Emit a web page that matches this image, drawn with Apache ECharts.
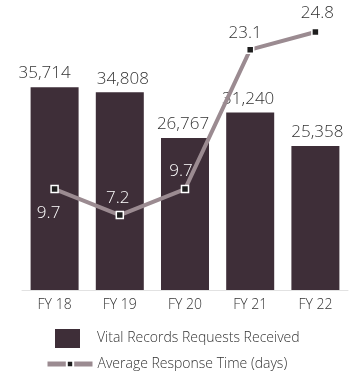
<!DOCTYPE html>
<html>
<head>
<meta charset="utf-8">
<script src="https://cdn.jsdelivr.net/npm/echarts@6/dist/echarts.min.js"></script>
<style>
  html, body { margin: 0; padding: 0; background: #fff; }
  #chart { width: 353px; height: 375px; }
</style>
</head>
<body>
<div id="chart"></div>
<script>
// Fiscal years shown along the x axis
const years = ['FY 18', 'FY 19', 'FY 20', 'FY 21', 'FY 22'];
// Vital records requests received per year
const requests = [35714, 34808, 26767, 31240, 25358];
// Average response time in days
const responseDays = [9.7, 7.2, 9.7, 23.1, 24.8];

const barName = 'Vital Records Requests Received';
const lineName = 'Average Response Time (days)';

const FONT = '"Open Sans", "Noto Sans", sans-serif';
const WEIGHT = 300;
const BAR_COLOR = '#3e2e38';
const LINE_COLOR = '#9b8b91';

// Per-point label placement for the response-time line
const lineLabelPlacement = [
  { position: 'bottom', distance: 11, offset: [-6, 0], color: '#ffffff' },
  { position: 'top', distance: 4, offset: [-2, 0], color: '#ffffff' },
  { position: 'top', distance: 5, offset: [-4, 0], color: '#ffffff' },
  { position: 'top', distance: 4, offset: [-5, 0], color: '#333333' },
  { position: 'top', distance: 6, offset: [2, 0], color: '#333333' }
];
// Horizontal nudges for the bar value labels
const barLabelOffsets = [[-10, 0], [3, 0], [-2, 0], [-2, 0], [2, 0]];

const chart = echarts.init(document.getElementById('chart'));
chart.setOption({
  animation: false,
  textStyle: { fontFamily: FONT, fontWeight: WEIGHT },
  grid: { left: 22, right: 5, top: 6, bottom: 85 },
  legend: [
    {
      data: [{ name: barName, icon: 'rect' }],
      left: 55, top: 329, padding: 0,
      itemWidth: 25, itemHeight: 19,
      textStyle: { fontSize: 14, color: '#333', fontFamily: FONT, fontWeight: WEIGHT, padding: [0, 0, 0, 12] }
    },
    {
      data: [lineName],
      left: 45, top: 357, padding: 0,
      itemWidth: 45, itemHeight: 8,
      lineStyle: { width: 5, color: LINE_COLOR },
      textStyle: { fontSize: 14, color: '#333', fontFamily: FONT, fontWeight: WEIGHT }
    }
  ],
  xAxis: {
    type: 'category',
    data: years,
    axisTick: { show: false },
    axisLine: { lineStyle: { color: '#e2e2e2', width: 1 } },
    axisLabel: { fontSize: 14, color: '#333', margin: 8, fontFamily: FONT, fontWeight: WEIGHT }
  },
  yAxis: [
    { type: 'value', min: 0, max: 50000, show: false, splitLine: { show: false } },
    { type: 'value', min: 0, max: 27.3, show: false, splitLine: { show: false } }
  ],
  series: [
    {
      name: barName,
      type: 'bar',
      data: requests.map((v, i) => ({ value: v, label: { offset: barLabelOffsets[i] } })),
      barWidth: 48,
      itemStyle: { color: BAR_COLOR },
      label: {
        show: true,
        position: 'top',
        distance: 5,
        fontSize: 17,
        color: '#333',
        fontFamily: FONT,
        fontWeight: WEIGHT,
        formatter: p => p.value.toLocaleString('en-US')
      }
    },
    {
      name: lineName,
      type: 'line',
      yAxisIndex: 1,
      data: responseDays.map((v, i) => ({
        value: v,
        label: Object.assign({ show: true }, lineLabelPlacement[i])
      })),
      lineStyle: { color: LINE_COLOR, width: 4 },
      symbol: 'rect',
      symbolSize: 7,
      itemStyle: { color: '#1e1e1e', borderColor: '#ffffff', borderWidth: 1.5 },
      label: { show: true, fontSize: 17, fontFamily: FONT, fontWeight: WEIGHT },
      z: 3
    }
  ]
});
</script>
</body>
</html>
